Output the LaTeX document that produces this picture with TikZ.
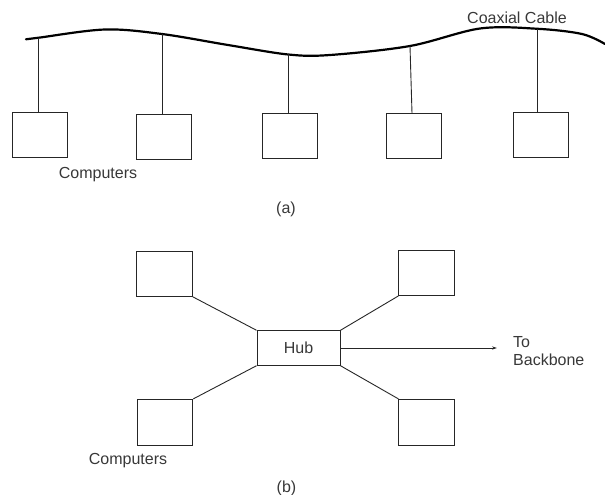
\documentclass[tikz,border=0pt]{standalone}
\usepackage{fontspec}
\setmainfont{Liberation Sans}
\usetikzlibrary{arrows.meta,calc}

\tikzset{
  pc/.style={draw=black!85, line width=0.9pt, minimum width=55pt, minimum height=45pt, inner sep=0pt},
  hubbox/.style={draw=black!85, line width=0.9pt, minimum width=83pt, minimum height=34.5pt, inner sep=0pt},
  wire/.style={draw=black!85, line width=0.9pt},
  cable/.style={draw=black, line width=2.2pt, line cap=round},
  lbl/.style={inner sep=0pt, text=black!78, font=\fontsize{16}{18}\selectfont}
}

\begin{document}
\begin{tikzpicture}[x=1pt, y=-1pt]
\useasboundingbox (0,0) rectangle (605,495);

% ---- (a) bus topology on a coaxial cable ----
\coordinate (c0) at (26,39.3);
\coordinate (t1) at (38.7,37.7);
\coordinate (c1) at (105,29.5);
\coordinate (t2) at (162,34);
\coordinate (c2) at (228,45);
\coordinate (t3) at (288.3,54.5);
\coordinate (c3) at (330,55);
\coordinate (t4) at (410,46);
\coordinate (c4) at (480,28.5);
\coordinate (t5) at (537.7,28.8);
\coordinate (c5) at (582,34);
\coordinate (c6) at (605,44);
\draw[cable] plot[smooth, tension=0.55] coordinates {(c0) (t1) (c1) (t2) (c2) (t3) (c3) (t4) (c4) (t5) (c5) (c6)};

\node[pc] (a1) at (39.8,135.3) {};
\node[pc] (a2) at (164,137.2) {};
\node[pc] (a3) at (289.6,136.2) {};
\node[pc] (a4) at (414.3,136.2) {};
\node[pc] (a5) at (540.8,135.3) {};

\draw[wire] (t1) -- (t1 |- a1.north);
\draw[wire] (t2) -- (t2 |- a2.north);
\draw[wire] (t3) -- (t3 |- a3.north);
\draw[wire] (t4) -- ([xshift=-2.3pt]a4.north);
\draw[wire] (t5) -- (t5 |- a5.north);

\node[lbl] (coax) at (517,18) {Coaxial Cable};
\node[lbl] (compa) at (98,175) {Computers};
\node[lbl] (capa) at (286,209) {(a)};

% ---- (b) star topology around a hub ----
\node[hubbox, lbl, draw=black!85] (hub) at (298.5,348) {Hub};
\node[pc, minimum width=55.6pt, minimum height=45.3pt] (tl) at (164.5,273.7) {};
\node[pc, minimum width=55.6pt, minimum height=45.3pt] (tr) at (426.7,272.8) {};
\node[pc, minimum width=55.6pt, minimum height=45.7pt] (bl) at (165,422.2) {};
\node[pc, minimum width=55.6pt, minimum height=45.7pt] (br) at (426.7,422.2) {};

\draw[wire] (tl.south east) -- (hub.north west);
\draw[wire] (tr.south west) -- (hub.north east);
\draw[wire] (bl.north east) -- (hub.south west);
\draw[wire] (br.north west) -- (hub.south east);

\coordinate (bb) at (497,348);
\draw[wire, -{Stealth[length=5pt,width=3.2pt]}] (hub.east) -- (bb);
\node[lbl, anchor=west, align=left] (tobb) at (513,351) {To\\Backbone};

\node[lbl] (compb) at (128,460.7) {Computers};
\node[lbl] (capb) at (286.5,488) {(b)};
\end{tikzpicture}
\end{document}
